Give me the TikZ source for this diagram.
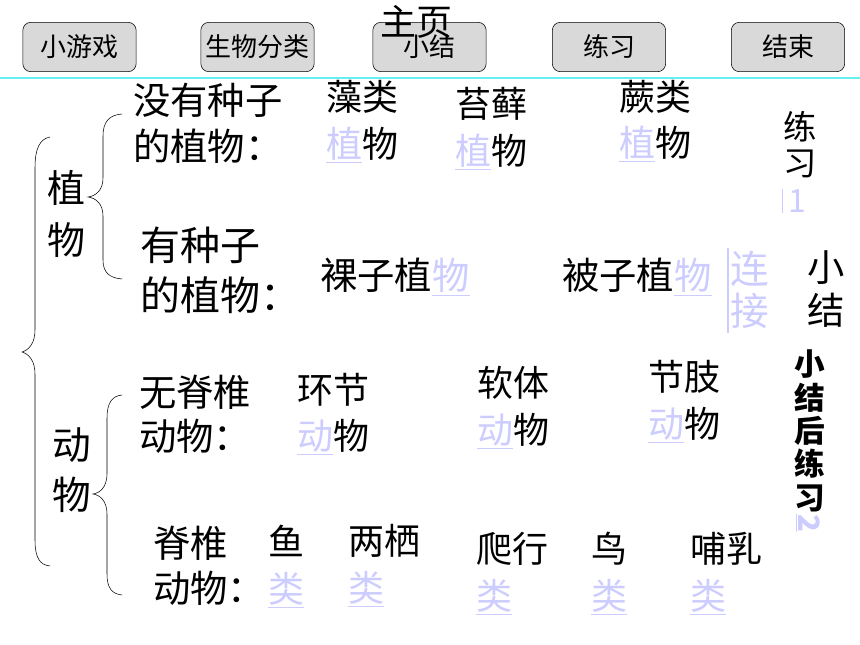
\documentclass[tikz,border=0pt]{standalone}
\usepackage{fontspec}
\setmainfont{Noto Sans CJK SC}
\definecolor{linkc}{RGB}{204,204,255}
\definecolor{rulecyan}{RGB}{100,240,240}
\newcommand\lk[1]{{\color{linkc}\underline{#1}}}

\begin{document}
\begin{tikzpicture}[x=0.75pt, y=-0.75pt,
    btn/.style={draw, rounded corners=6pt, fill=black!15, minimum width=85pt,
      minimum height=37pt, inner sep=0pt, font=\fontsize{19.5pt}{22pt}\selectfont},
    item/.style={anchor=west, inner sep=0pt, align=left, font=\fontsize{27pt}{35pt}\selectfont},
    vtxt/.style={inner sep=0pt, align=center}]

      \useasboundingbox (0,0) rectangle (860,645);

      \node[btn] (game) at (79.5,47) {小游戏};
      \node[btn] (classify) at (257.5,47) {生物分类};
      \node[btn] (summary) at (429.5,47) {小结};
      \node[btn] (practice) at (609,47) {练习};
      \node[btn] (finish) at (788,47) {结束};
      \node[inner sep=0pt, font=\fontsize{27pt}{30pt}\selectfont] (home) at (416,22) {主页};

      \draw[rulecyan, line width=1.5pt] (0,78) -- (860,78);

      % plants
      \node[vtxt, font=\fontsize{28.5pt}{39pt}\selectfont] (plant) at (66,214) {植\\物};
      \node[item, font=\fontsize{28pt}{34.5pt}\selectfont] (noseed) at (133,123) {没有种子\\的植物：};
      \node[item] (algae) at (326,121.5) {藻类\\\lk{植}物};
      \node[item] (moss) at (455,128.5) {苔藓\\\lk{植}物};
      \node[item] (fern) at (619,121) {蕨类\\\lk{植}物};
      \node[item, font=\fontsize{30pt}{37.5pt}\selectfont] (seed) at (140,270) {有种子\\的植物：};
      \node[item, font=\fontsize{28pt}{34pt}\selectfont] (gymno) at (320,277) {裸子植\lk{物}};
      \node[item, font=\fontsize{28pt}{34pt}\selectfont] (angio) at (562,277) {被子植\lk{物}};

      % animals
      \node[vtxt, font=\fontsize{29pt}{37.5pt}\selectfont] (animal) at (72,470) {动\\物};
      \node[item, font=\fontsize{28pt}{33pt}\selectfont] (invert) at (139,414) {无脊椎\\动物：};
      \node[item] (annel) at (297,414) {环节\\\lk{动}物};
      \node[item] (mollus) at (477,407.5) {软体\\\lk{动}物};
      \node[item] (arthro) at (648,401.5) {节肢\\\lk{动}物};
      \node[item, font=\fontsize{28pt}{34pt}\selectfont] (vert) at (153,565.5) {脊椎\\动物：};
      \node[item] (fish) at (268,566.5) {鱼\\\lk{类}};
      \node[item] (amphi) at (348,565.5) {两栖\\\lk{类}};
      \node[item] (reptile) at (476,573.5) {爬行\\\lk{类}};
      \node[item] (bird) at (591,573.5) {鸟\\\lk{类}};
      \node[item] (mammal) at (690,573.5) {哺乳\\\lk{类}};

      % right column
      \node[vtxt, font=\fontsize{25pt}{27pt}\selectfont] (ex1) at (800,145) {练\\习};
      \node[inner sep=0pt, linkc, font=\fontsize{24pt}{27pt}\selectfont] (one) at (797,201) {1};
      \draw[linkc, line width=1pt] ([xshift=-4pt]one.north west) -- ([xshift=-4pt]one.south west);
      \node[vtxt, linkc, font=\fontsize{29pt}{32pt}\selectfont] (link) at (750,290) {连\\接};
      \draw[linkc, line width=1pt] (728,248) -- (728,333);
      \node[vtxt, font=\fontsize{28pt}{32pt}\selectfont] (recap) at (826,289) {小\\结};
      \node[vtxt, font=\bfseries\fontsize{23pt}{25pt}\selectfont] (ex2) at (810,431) {小\\结\\后\\练\\习};
      \node[inner sep=0pt, rotate=-90, font=\bfseries\fontsize{22pt}{25pt}\selectfont] (two) at (808,523) {\lk{2}};

      % braces
      \draw (50,137) .. controls (40,139) and (35,148) .. (35,168) -- (35,330)
        .. controls (35,343) and (29,350) .. (22,352)
        .. controls (29,354) and (35,361) .. (35,374) -- (35,540)
        .. controls (35,558) and (40,565) .. (50,566);
      \draw (122,114) .. controls (109,115) and (103,122) .. (103,136) -- (103,178)
        .. controls (103,190) and (96,196) .. (88,197)
        .. controls (96,198) and (103,204) .. (103,216) -- (103,260)
        .. controls (103,272) and (109,278) .. (122,279);
      \draw (122,395) .. controls (112,396) and (107,403) .. (107,418) -- (107,474)
        .. controls (107,487) and (100,493) .. (93,494)
        .. controls (100,495) and (107,501) .. (107,514) -- (107,574)
        .. controls (107,588) and (112,594) .. (122,595);

    \end{tikzpicture}
\end{document}
